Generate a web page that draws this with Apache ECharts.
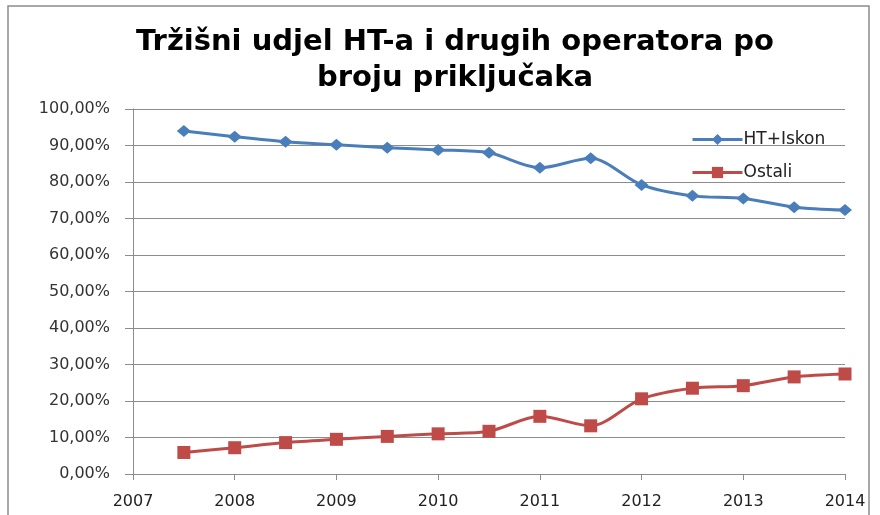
<!DOCTYPE html>
<html>
<head>
<meta charset="utf-8">
<script src="https://cdn.jsdelivr.net/npm/echarts@6/dist/echarts.min.js"></script>
<style>
html, body { margin: 0; padding: 0; background: #fff; }
#chart { width: 880px; height: 515px; }
</style>
</head>
<body>
<div id="chart"></div>
<script>
// godine (pola godine po tocki)
var godine = [2007.5, 2008, 2008.5, 2009, 2009.5, 2010, 2010.5, 2011, 2011.5, 2012, 2012.5, 2013, 2013.5, 2014];
var htIskon = [94.0, 92.4, 91.0, 90.2, 89.4, 88.8, 88.0, 83.9, 86.5, 79.2, 76.2, 75.5, 73.1, 72.3];
var ostali = [5.9, 7.2, 8.6, 9.5, 10.3, 11.0, 11.7, 15.8, 13.2, 20.6, 23.5, 24.2, 26.6, 27.4];
var nazivi = ['HT+Iskon', 'Ostali'];

function parovi(x, y) {
    var out = [];
    for (var i = 0; i < x.length; i++) {
        out.push([x[i], y[i]]);
    }
    return out;
}

var chart = echarts.init(document.getElementById('chart'));

var option = {
    animation: false,
    title: {
        text: 'Tržišni udjel HT-a i drugih operatora po\nbroju priključaka',
        left: 450,
        top: 19,
        textAlign: 'center',
        textStyle: {
            fontFamily: 'DejaVu Sans',
            fontWeight: 'bold',
            fontSize: 29,
            lineHeight: 36,
            color: '#000'
        }
    },
    graphic: [{
        type: 'polyline',
        shape: { points: [[8, 515], [8, 6], [869, 6], [869, 515]] },
        style: { stroke: '#8c8c8c', lineWidth: 1.5, fill: null }
    }],
    legend: {
        orient: 'vertical',
        left: 686,
        top: 126,
        itemWidth: 50,
        itemHeight: 14,
        itemGap: 16,
        lineStyle: { width: 3 },
        textStyle: { fontFamily: 'DejaVu Sans', fontSize: 17, color: '#222', padding: [0, 0, 0, -4] },
        data: nazivi
    },
    grid: {
        left: 133,
        right: 35,
        top: 109,
        bottom: 41
    },
    xAxis: {
        type: 'value',
        min: 2007,
        max: 2014,
        interval: 1,
        axisLine: { lineStyle: { color: '#8c8c8c', width: 1 } },
        axisTick: { show: true, length: 6, lineStyle: { color: '#8c8c8c' } },
        splitLine: { show: false },
        axisLabel: {
            fontFamily: 'DejaVu Sans',
            fontSize: 16,
            color: '#222',
            margin: 20,
            formatter: function (v) { return String(v); }
        }
    },
    yAxis: {
        type: 'value',
        min: 0,
        max: 100,
        interval: 10,
        axisLine: { show: true, lineStyle: { color: '#8c8c8c', width: 1 } },
        axisTick: { show: true, length: 8, lineStyle: { color: '#8c8c8c' } },
        splitLine: { lineStyle: { color: '#8c8c8c', width: 1 } },
        axisLabel: {
            fontFamily: 'DejaVu Sans',
            fontSize: 16,
            color: '#333',
            margin: 23,
            formatter: function (v) { return v.toFixed(2).replace('.', ',') + '%'; }
        }
    },
    series: [{
        name: nazivi[0],
        type: 'line',
        smooth: 0.3,
        data: parovi(godine, htIskon),
        symbol: 'diamond',
        symbolSize: [14, 12],
        itemStyle: { color: '#4a7ebb' },
        lineStyle: { width: 3, color: '#4a7ebb' }
    }, {
        name: nazivi[1],
        type: 'line',
        smooth: 0.3,
        data: parovi(godine, ostali),
        symbol: 'rect',
        symbolSize: 13,
        itemStyle: { color: '#be4b48' },
        lineStyle: { width: 3, color: '#be4b48' }
    }]
};

chart.setOption(option);
</script>
</body>
</html>
